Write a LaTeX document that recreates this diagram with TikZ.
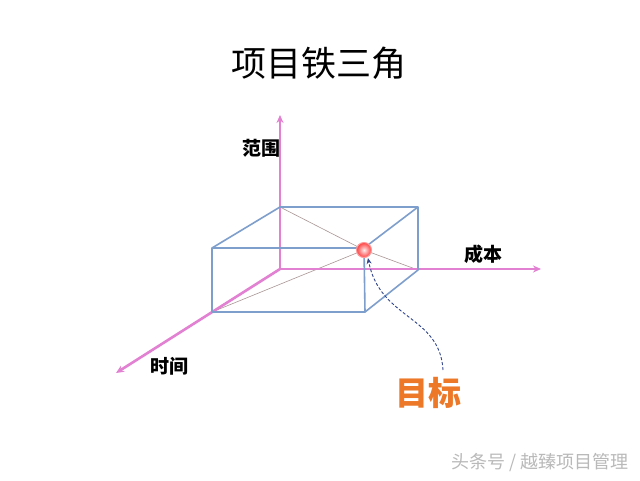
\documentclass[tikz,border=0pt]{standalone}
\usepackage{fontspec}
\setmainfont{Noto Sans CJK SC}
\newfontfamily\cjk{Noto Sans CJK SC}
\usetikzlibrary{arrows.meta,calc}
\definecolor{axiscol}{RGB}{226,128,210}
\definecolor{boxcol}{RGB}{126,158,204}
\definecolor{thincol}{RGB}{170,150,150}
\definecolor{goalcol}{RGB}{236,120,40}
\definecolor{dashcol}{RGB}{50,70,140}
\tikzset{
  axis/.style={draw=axiscol,line width=2.6pt,-{Stealth[length=8pt,width=7pt]}},
  boxedge/.style={draw=boxcol,line width=1.6pt,line join=round},
  thinline/.style={draw=thincol,line width=0.6pt},
  axlabel/.style={font=\cjk\bfseries\fontsize{19}{19}\selectfont,text=black,inner sep=0pt},
}
\begin{document}
\begin{tikzpicture}[x=1pt,y=-1pt]
\useasboundingbox (0,0) rectangle (640,480);
\fill[white] (0,0) rectangle (640,480);
% title
\node[font=\cjk\fontsize{35}{35}\selectfont,inner sep=0pt] (title) at (319,63) {项目铁三角};
% corners
\coordinate (O) at (280,269);
\coordinate (BTL) at (280,207);
\coordinate (BTR) at (418,207);
\coordinate (BBR) at (418,270);
\coordinate (FTL) at (212,248);
\coordinate (FTR) at (364,248);
\coordinate (FBL) at (212,312);
\coordinate (FBR) at (365,312);
\coordinate (ball) at (364,250);
% thin diagonals
\draw[thinline] (BTL) -- (ball) -- (BBR);
\draw[thinline] (FBL) -- (ball);
% axes
\coordinate (ytip) at (280,115);
\coordinate (xtip) at (541,269);
\coordinate (ztip) at (116,373);
\draw[axis] (O) -- (ytip);
\draw[axis] (O) -- (xtip);
\draw[axis] (O) -- (ztip);
% box
\draw[boxedge] (FTL) -- (FTR) -- (FBR) -- (FBL) -- cycle;
\draw[boxedge] (FTL) -- (BTL) -- (BTR) -- (BBR) -- (FBR);
\draw[boxedge] (FTR) -- (BTR);
% ball
\shade[inner color=red!8!white,outer color=red!75!white,draw=red!40!white,line width=1pt] (ball) circle (7.5);
% labels
\node[axlabel] (lfw) at (261,148) {范围};
\node[axlabel] (lcb) at (483,254) {成本};
\node[axlabel] (lsj) at (169,366) {时间};
\node[font=\cjk\bfseries\fontsize{33}{33}\selectfont,text=goalcol,inner sep=0pt] (goal) at (428,393) {目标};
% dashed arrow
\coordinate (dstart) at (443,370);
\draw[dashcol,dash pattern=on 3pt off 2pt,line width=0.9pt,-{Stealth[length=6pt,width=5pt]}] (dstart) .. controls (440,315) and (380,320) .. ($(ball)+(4,8)$);
% watermark
\node[font=\cjk\fontsize{18}{18}\selectfont,text=gray!55,inner sep=0pt] (wm) at (540,463) {头条号 / 越臻项目管理};
\end{tikzpicture}
\end{document}
